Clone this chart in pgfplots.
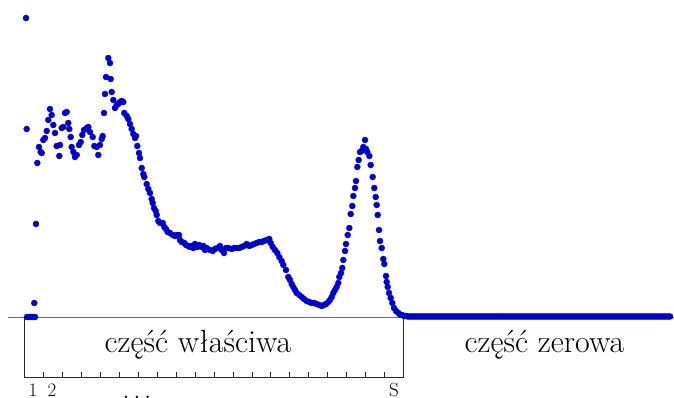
\documentclass[border=0pt]{standalone}
\usepackage{pgfplots}
\pgfplotsset{compat=1.18}
\definecolor{dotblue}{RGB}{0,0,204}
\definecolor{basegray}{RGB}{110,110,110}
\begin{document}
\begin{tikzpicture}
\begin{axis}[
  scale only axis, width=674pt, height=398pt,
  xmin=0, xmax=674, ymin=-80, ymax=318,
  axis lines=none, ticks=none, clip=false,
]
\draw[basegray, line width=1pt] (axis cs:8,0) -- (axis cs:674,0);
\draw[black!85, line width=0.8pt] (axis cs:24,0) -- (axis cs:24,-59) -- (axis cs:403,-59) -- (axis cs:403,0);
\pgfplotsinvokeforeach{43,62,81,100,119,138,157,176,195,214,233,252,270,289,308,327,346,365,384}{
  \draw[black!85, line width=0.6pt] (axis cs:#1,-59) -- (axis cs:#1,-54);
}
\node[anchor=base, font=\fontsize{32}{38}\selectfont] at (axis cs:198,-35) {część właściwa};
\node[anchor=base, font=\fontsize{32}{38}\selectfont] at (axis cs:544.5,-35) {część zerowa};
\node[anchor=base, font=\fontsize{19}{22}\selectfont] at (axis cs:33,-79) {1};
\node[anchor=base, font=\fontsize{19}{22}\selectfont] at (axis cs:52,-79) {2};
\node[anchor=base, font=\fontsize{19}{22}\selectfont] at (axis cs:394,-79) {S};
\node[anchor=base, font=\fontsize{25}{30}\selectfont] at (axis cs:137,-81) {$\dots$};
\addplot[only marks, mark=*, mark size=3pt, color=dotblue, mark options={draw=dotblue, fill=dotblue}] coordinates {
(26,300) (26.7,189) (27,1) (29,1) (31,1) (33,1) (35,1) (34.3,15) (36,94) (37.3,155)
(39,171) (40.7,166) (41.7,165) (43.3,178) (45,180) (46.7,187) (48.3,198) (50,209) (51.7,203) (53.3,193)
(55,185) (56.7,172) (59.3,162) (60,173) (61.7,190) (63.3,191) (65,205) (66.7,206) (68.3,195) (69.3,189)
(70.7,181) (71.7,171) (73.3,166) (75,161) (76.7,163) (79,173) (80.7,176) (82.3,183) (84,188) (86.7,190)
(88.3,191) (90,186) (92.7,181) (94.3,172) (96.7,171) (98.3,163) (100,173) (101.7,179) (102.7,182) (104,205)
(105,224) (106,241) (108.3,260) (110,255) (110.7,239) (111.7,226) (113.3,218) (115,210) (116.7,213) (118.3,214)
(120,216) (121.7,217) (123.3,216) (124.3,205) (126.7,202) (128.3,199) (130,194) (131.7,189) (133.3,184) (135,180)
(136,182) (137.3,172) (139,165) (140,160) (141.7,150) (143.3,144) (144.3,141) (146.7,134) (148.3,129) (150,125)
(151.7,119) (152.7,115) (154,110) (155.7,107) (156.7,103) (158.3,97) (160,95) (162.7,95) (164.3,91) (166,89)
(167.7,86) (170,85) (172.7,83) (175,82) (176.7,83) (179,83) (180,78) (181.7,76) (184.3,75) (186,73)
(188.3,72) (190,71) (191.7,72) (193.3,70) (195,74) (197.3,71) (199.3,73) (201.7,71) (203.3,72) (205,68)
(206.7,70) (210,68) (212.7,67) (215,69) (217.3,70) (220,72) (221.7,68) (224,65) (226,70) (228.3,70)
(231.7,69) (234,70) (236.7,70) (239.3,70) (241.7,71) (244,72) (246.7,74) (249.3,72) (251.7,73) (254,74)
(256.7,75) (259.3,76) (261.7,76) (264,77) (266.7,78) (269.3,79) (270.7,75) (272.7,71) (275,68) (277.3,65)
(279.3,61) (281.7,57) (283.3,53) (286,48) (288.3,41) (290,38) (291.7,34) (293.3,31) (295,28) (296.7,25)
(299.3,23) (301.7,21) (304,19) (306.7,17) (309.3,16) (311.7,15) (314.3,15) (316.7,14) (319.3,13) (321.7,12)
(324,13) (326,14) (328.3,16) (330,18) (331.7,21) (333.3,25) (335,28) (336.7,31) (338.3,35) (339.3,41)
(341,45) (342.3,50) (343.3,58) (345,67) (346,74) (347.7,83) (349.3,90) (350.7,104) (352.3,112) (353.3,122)
(355,130) (356,137) (357.3,151) (358.7,158) (360,166) (361.7,167) (363.3,171) (365,178) (366,169) (367.3,166)
(369.3,162) (370.7,153) (372.7,141) (374.3,130) (375.7,121) (376.7,113) (377.7,103) (379,88) (380,77) (381.7,70)
(383.3,59) (384.3,54) (386,42) (386.7,36) (387.7,31) (389,25) (390.7,20) (392.3,15) (394,10) (396,7)
(398.3,5) (400,3.5) (401.7,3) (403.5,2.3) (405,2) (406.5,1.8)
(408,1.5) (410,1.5) (412,1.5) (414,1.5) (416,1.5) (418,1.5) (420,1.5) (422,1.5) (424,1.5) (426,1.5)
(428,1.5) (430,1.5) (432,1.5) (434,1.5) (436,1.5) (438,1.5) (440,1.5) (442,1.5) (444,1.5) (446,1.5)
(448,1.5) (450,1.5) (452,1.5) (454,1.5) (456,1.5) (458,1.5) (460,1.5) (462,1.5) (464,1.5) (466,1.5)
(468,1.5) (470,1.5) (472,1.5) (474,1.5) (476,1.5) (478,1.5) (480,1.5) (482,1.5) (484,1.5) (486,1.5)
(488,1.5) (490,1.5) (492,1.5) (494,1.5) (496,1.5) (498,1.5) (500,1.5) (502,1.5) (504,1.5) (506,1.5)
(508,1.5) (510,1.5) (512,1.5) (514,1.5) (516,1.5) (518,1.5) (520,1.5) (522,1.5) (524,1.5) (526,1.5)
(528,1.5) (530,1.5) (532,1.5) (534,1.5) (536,1.5) (538,1.5) (540,1.5) (542,1.5) (544,1.5) (546,1.5)
(548,1.5) (550,1.5) (552,1.5) (554,1.5) (556,1.5) (558,1.5) (560,1.5) (562,1.5) (564,1.5) (566,1.5)
(568,1.5) (570,1.5) (572,1.5) (574,1.5) (576,1.5) (578,1.5) (580,1.5) (582,1.5) (584,1.5) (586,1.5)
(588,1.5) (590,1.5) (592,1.5) (594,1.5) (596,1.5) (598,1.5) (600,1.5) (602,1.5) (604,1.5) (606,1.5)
(608,1.5) (610,1.5) (612,1.5) (614,1.5) (616,1.5) (618,1.5) (620,1.5) (622,1.5) (624,1.5) (626,1.5)
(628,1.5) (630,1.5) (632,1.5) (634,1.5) (636,1.5) (638,1.5) (640,1.5) (642,1.5) (644,1.5) (646,1.5)
(648,1.5) (650,1.5) (652,1.5) (654,1.5) (656,1.5) (658,1.5) (660,1.5) (662,1.5) (664,1.5) (666,1.5)
(668,1.5) (670,1.5)
};
\end{axis}
\pgfresetboundingbox
\path (current axis.south west) rectangle (current axis.north east);
\end{tikzpicture}
\end{document}
